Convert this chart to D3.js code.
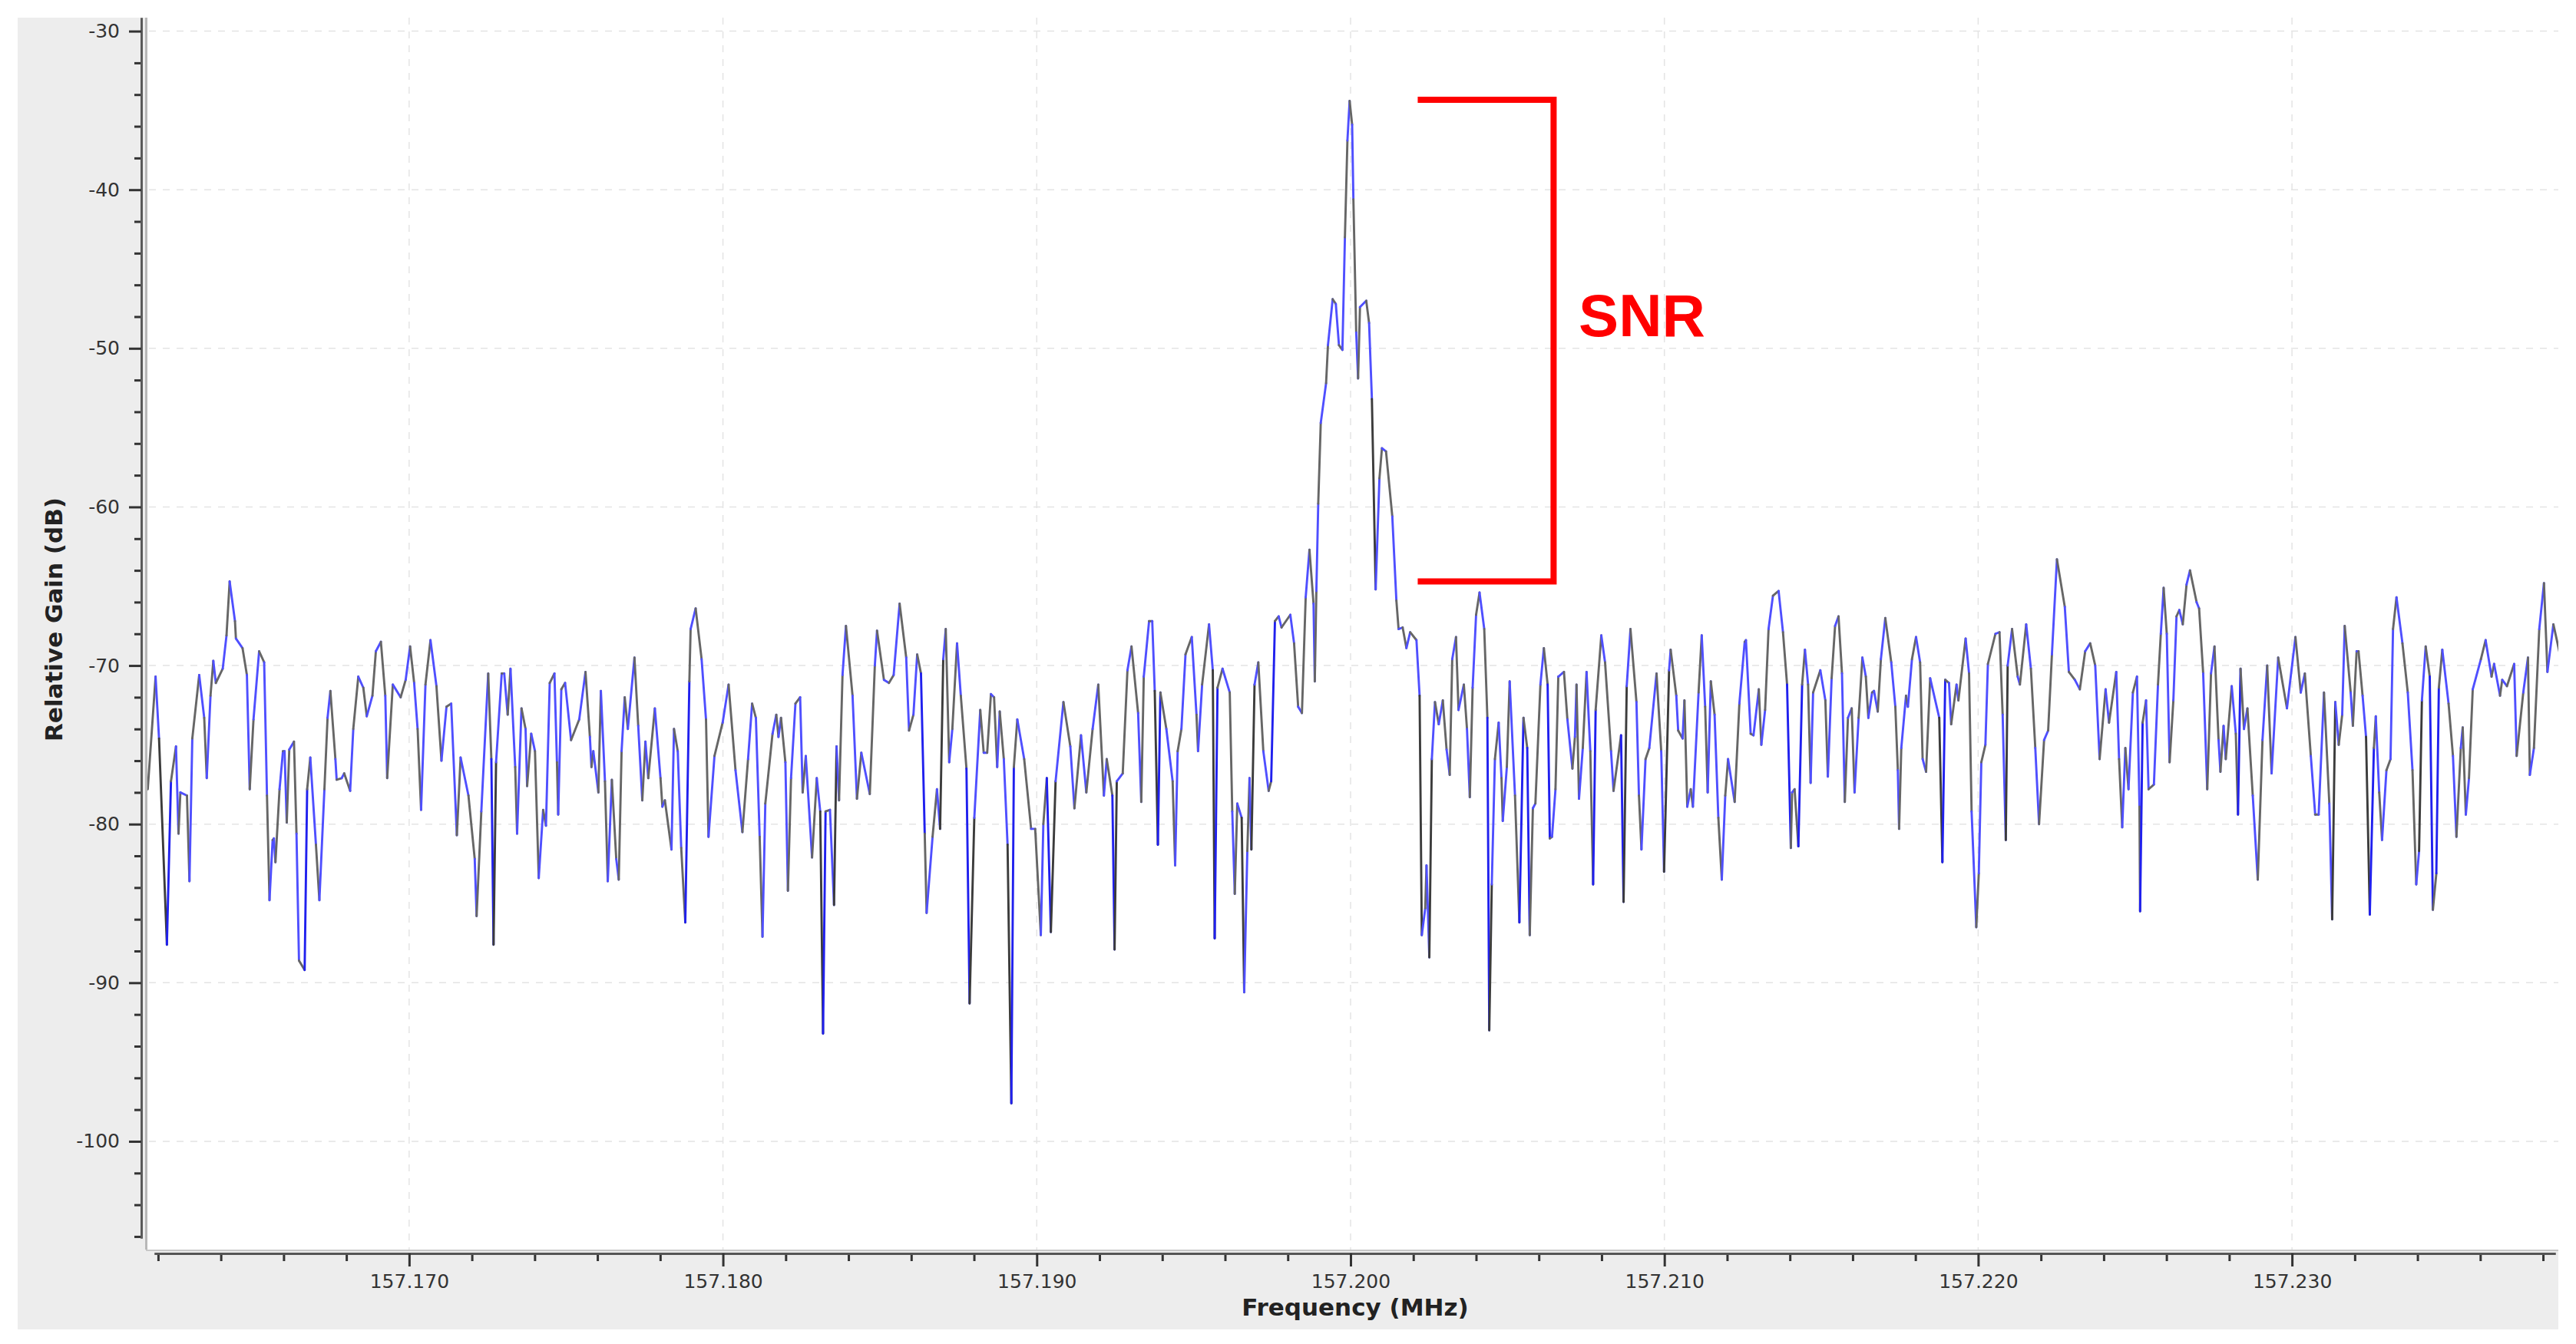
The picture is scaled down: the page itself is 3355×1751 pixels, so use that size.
<!DOCTYPE html>
<html><head><meta charset="utf-8">
<script src="https://cdn.jsdelivr.net/npm/d3@7"></script>
<style>html,body{margin:0;padding:0;background:#fff;} svg{display:block}</style>
</head><body>
<svg id="chart" width="3355" height="1751"></svg>
<script>
// ---------- data ----------
const centerMHz = 157.2;                 // spectrum centre; frequencies below are kHz offsets from it
const xTickLabels = ["157.170","157.180","157.190","157.200","157.210","157.220","157.230"];
const yTickLabels = [-30,-40,-50,-60,-70,-80,-90,-100];
const xAxisTitle = "Frequency (MHz)";
const yAxisTitle = "Relative Gain (dB)";

// band 1 (left edge .. -25.7 kHz)
const band1Freq = [-38.33,-38.08,-37.97,-37.72,-37.59,-37.43,-37.35,-37.29,-37.08,-37.00,-36.91,-36.69,-36.53,-36.45,-36.33,-36.24,-36.16,-35.94,-35.82,-35.72,-35.55,-35.52,-35.31,-35.17,-35.08,-34.96,-34.78,-34.62,-34.53,-34.45,-34.35,-34.31,-34.26,-34.13,-34.02,-33.97,-33.90,-33.82,-33.67,-33.59,-33.51,-33.33,-33.25,-33.15,-32.97,-32.86,-32.70,-32.60,-32.51,-32.35,-32.31,-32.15,-32.07,-31.88,-31.78,-31.62,-31.46,-31.35,-31.17,-31.06,-30.90,-30.76,-30.70,-30.52,-30.27,-30.11,-29.97,-29.84,-29.73,-29.62,-29.48,-29.32,-29.13,-28.97,-28.81,-28.66,-28.48,-28.36,-28.11,-27.91,-27.85,-27.70,-27.48,-27.38,-27.31,-27.23,-27.05,-26.97,-26.86,-26.77,-26.62,-26.56,-26.42,-26.29,-26.24,-26.11,-25.99,-25.87,-25.73];
const band1Gain = [-77.8,-70.7,-74.6,-87.6,-77.3,-75.1,-80.6,-78.0,-78.2,-83.6,-74.6,-70.6,-73.3,-77.1,-71.9,-69.7,-71.1,-70.2,-68.1,-64.7,-67.2,-68.3,-68.9,-70.6,-77.8,-73.4,-69.1,-69.8,-78.2,-84.8,-81.0,-80.9,-82.4,-77.8,-75.4,-75.4,-79.9,-75.3,-74.8,-80.6,-88.6,-89.2,-77.8,-75.8,-81.3,-84.8,-77.8,-73.3,-71.6,-75.9,-77.2,-77.1,-76.8,-77.9,-74.0,-70.7,-71.4,-73.2,-71.9,-69.1,-68.5,-71.9,-77.1,-71.2,-72.0,-70.9,-68.8,-71.1,-74.0,-79.1,-71.2,-68.4,-71.3,-76.0,-72.6,-72.4,-80.7,-75.8,-78.2,-82.2,-85.8,-79.2,-70.5,-75.9,-87.6,-76.1,-70.5,-70.5,-73.1,-70.2,-76.4,-80.6,-72.7,-74.0,-77.6,-74.3,-75.4,-83.4,-79.1];

// band 2 (-25.6 .. -12.9 kHz)
const band2Freq = [-25.64,-25.52,-25.37,-25.29,-25.25,-25.15,-25.03,-24.84,-24.58,-24.38,-24.24,-24.19,-24.13,-23.97,-23.89,-23.76,-23.67,-23.54,-23.40,-23.32,-23.23,-23.13,-23.03,-22.82,-22.70,-22.57,-22.47,-22.38,-22.17,-21.99,-21.93,-21.85,-21.64,-21.56,-21.44,-21.33,-21.20,-21.07,-21.03,-20.87,-20.68,-20.54,-20.46,-20.27,-20.01,-19.82,-19.60,-19.38,-19.20,-19.07,-18.95,-18.83,-18.74,-18.65,-18.42,-18.30,-18.23,-18.15,-18.01,-17.93,-17.83,-17.69,-17.54,-17.46,-17.36,-17.16,-17.01,-16.90,-16.81,-16.73,-16.59,-16.46,-16.38,-16.30,-16.19,-16.08,-15.87,-15.73,-15.59,-15.32,-15.16,-15.09,-14.87,-14.71,-14.56,-14.37,-14.16,-14.07,-13.93,-13.81,-13.69,-13.57,-13.51,-13.32,-13.18,-13.08,-12.98,-12.90];
const band2Gain = [-80.1,-71.1,-70.5,-76.1,-79.4,-71.5,-71.1,-74.7,-73.4,-70.4,-74.5,-76.4,-75.4,-78.0,-71.6,-77.3,-83.6,-77.2,-82.2,-83.5,-75.4,-72.0,-74.0,-69.5,-73.8,-78.5,-74.8,-77.1,-72.7,-77.1,-78.9,-78.5,-81.6,-74.0,-75.4,-81.5,-86.2,-71.0,-67.7,-66.4,-69.6,-73.4,-80.8,-75.7,-73.6,-71.2,-76.6,-80.5,-75.9,-72.4,-73.3,-80.8,-87.1,-78.7,-74.3,-73.1,-74.5,-73.3,-76.1,-84.2,-77.1,-72.4,-72.0,-78.0,-75.7,-82.1,-77.1,-79.2,-93.2,-79.2,-79.1,-85.1,-75.1,-78.5,-70.6,-67.5,-71.9,-78.4,-75.5,-78.1,-70.0,-67.8,-70.9,-71.1,-70.6,-66.1,-69.5,-74.1,-73.1,-69.3,-70.5,-80.6,-85.6,-80.8,-77.8,-80.3,-69.6,-67.7];

// band 3 (-12.8 .. -1.1 kHz)
const band3Freq = [-12.79,-12.69,-12.54,-12.42,-12.24,-12.14,-11.99,-11.80,-11.69,-11.58,-11.46,-11.36,-11.26,-11.18,-11.05,-10.93,-10.81,-10.73,-10.62,-10.40,-10.18,-10.05,-9.87,-9.79,-9.68,-9.55,-9.40,-9.15,-8.93,-8.80,-8.59,-8.42,-8.22,-8.04,-7.86,-7.77,-7.59,-7.52,-7.45,-7.26,-7.11,-6.98,-6.77,-6.67,-6.59,-6.42,-6.32,-6.24,-6.14,-6.06,-5.87,-5.67,-5.59,-5.51,-5.39,-5.26,-5.06,-4.91,-4.86,-4.73,-4.51,-4.39,-4.33,-4.24,-4.08,-3.85,-3.77,-3.69,-3.61,-3.47,-3.39,-3.29,-3.22,-3.16,-3.06,-2.94,-2.78,-2.61,-2.53,-2.41,-2.29,-2.20,-1.92,-1.80,-1.67,-1.55,-1.43,-1.31,-1.18,-1.14,-1.09];
const band3Gain = [-76.1,-74.0,-68.6,-71.9,-76.5,-91.3,-79.6,-72.8,-75.5,-75.5,-71.8,-72.0,-76.4,-72.9,-75.9,-81.3,-97.6,-76.4,-73.4,-75.9,-80.3,-80.3,-87.0,-80.0,-77.1,-86.8,-77.3,-72.3,-75.1,-79.0,-74.4,-78.0,-74.0,-71.2,-78.2,-75.9,-78.2,-87.9,-77.3,-76.8,-70.3,-68.8,-73.0,-78.6,-70.7,-67.2,-67.2,-71.6,-81.3,-71.7,-74.0,-77.3,-82.6,-75.4,-74.0,-69.3,-68.2,-73.1,-75.4,-71.2,-67.4,-70.3,-87.2,-71.4,-70.2,-71.7,-79.2,-84.4,-78.7,-79.6,-90.6,-81.7,-77.1,-81.6,-71.2,-69.8,-75.4,-77.9,-77.3,-67.2,-66.9,-67.6,-66.8,-68.6,-72.6,-73.0,-65.7,-62.7,-66.1,-71.0,-65.3];

// band 4: the carrier (-1.0 .. +2.1 kHz)
const carrierFreq = [-1.03,-0.95,-0.78,-0.72,-0.57,-0.47,-0.37,-0.26,-0.18,-0.10,-0.03,0.05,0.09,0.18,0.24,0.30,0.50,0.59,0.68,0.80,0.92,1.00,1.13,1.33,1.46,1.53,1.66,1.78,1.90,2.10];
const carrierGain = [-59.8,-54.7,-52.2,-49.8,-46.9,-47.2,-49.8,-50.1,-43.0,-36.9,-34.4,-35.9,-40.6,-49.0,-51.9,-47.4,-47.0,-48.4,-53.2,-65.2,-58.2,-56.3,-56.5,-60.6,-65.9,-67.7,-67.6,-68.9,-67.9,-68.4];

// band 5 (+2.2 .. +12.6 kHz)
const band5Freq = [2.20,2.27,2.38,2.42,2.51,2.59,2.69,2.81,2.94,3.06,3.16,3.24,3.36,3.44,3.61,3.71,3.80,3.89,4.00,4.11,4.26,4.36,4.42,4.50,4.60,4.72,4.81,4.85,4.98,5.07,5.24,5.38,5.51,5.63,5.71,5.81,5.89,6.05,6.16,6.28,6.35,6.42,6.53,6.62,6.80,6.91,7.07,7.15,7.20,7.28,7.40,7.52,7.64,7.73,7.81,7.99,8.11,8.30,8.38,8.62,8.70,8.80,8.92,9.11,9.19,9.27,9.40,9.52,9.75,9.90,9.99,10.15,10.20,10.38,10.44,10.58,10.64,10.73,10.84,10.91,11.09,11.19,11.30,11.38,11.48,11.60,11.72,11.83,11.94,12.03,12.24,12.39,12.56];
const band5Gain = [-71.9,-87.0,-85.3,-82.6,-88.4,-75.9,-72.3,-73.7,-72.2,-75.3,-76.9,-69.6,-68.2,-72.8,-71.2,-74.0,-78.3,-71.4,-66.8,-65.4,-67.7,-73.3,-93.0,-83.8,-75.9,-73.6,-77.1,-79.8,-76.4,-71.0,-78.2,-86.2,-73.3,-75.2,-87.0,-79.0,-78.7,-71.2,-68.9,-71.2,-80.9,-80.8,-77.8,-70.7,-70.4,-73.4,-76.5,-74.5,-71.2,-78.4,-75.2,-70.4,-75.4,-83.8,-72.8,-68.1,-69.8,-75.4,-77.9,-74.4,-84.9,-71.3,-67.7,-72.3,-78.2,-81.6,-75.9,-75.2,-70.5,-75.4,-83.0,-70.3,-69.0,-71.9,-74.1,-74.6,-72.2,-78.9,-77.8,-78.9,-71.7,-68.1,-72.6,-78.0,-71.0,-73.1,-79.6,-83.5,-78.2,-75.9,-78.6,-72.4,-68.5];

// band 6 (+12.6 .. +25.2 kHz)
const band6Freq = [12.60,12.75,12.84,13.01,13.09,13.21,13.32,13.46,13.64,13.78,13.91,14.03,14.07,14.15,14.27,14.39,14.48,14.58,14.66,14.74,14.97,15.13,15.21,15.33,15.44,15.55,15.66,15.75,15.85,15.97,16.06,16.19,16.31,16.42,16.50,16.62,16.68,16.80,16.90,17.04,17.23,17.36,17.44,17.48,17.55,17.70,17.76,17.89,18.02,18.15,18.23,18.34,18.47,18.76,18.86,18.95,19.07,19.14,19.31,19.37,19.60,19.71,19.79,19.94,20.02,20.10,20.23,20.31,20.55,20.68,20.78,20.88,20.94,21.08,21.26,21.33,21.53,21.68,21.82,21.94,22.10,22.23,22.35,22.51,22.76,22.89,23.08,23.24,23.41,23.57,23.73,23.87,24.06,24.17,24.40,24.49,24.59,24.69,24.79,24.93,25.06,25.14,25.16,25.24];
const band6Gain = [-68.4,-74.3,-74.4,-71.5,-75.0,-72.8,-67.7,-65.6,-65.3,-67.9,-71.2,-81.5,-78.0,-77.8,-81.4,-71.2,-69.0,-71.2,-77.4,-71.7,-70.3,-72.2,-77.0,-70.8,-67.5,-66.9,-70.5,-78.6,-73.3,-72.7,-78.0,-73.3,-69.5,-70.7,-73.3,-71.7,-71.6,-72.9,-69.6,-67.0,-69.8,-72.6,-76.6,-80.3,-75.2,-71.9,-72.6,-69.6,-68.2,-69.8,-75.9,-76.7,-70.8,-73.3,-82.4,-70.9,-71.1,-73.7,-71.2,-72.2,-68.3,-70.5,-79.2,-86.5,-83.1,-76.1,-75.0,-69.9,-68.0,-67.9,-73.1,-81.0,-70.0,-67.7,-70.7,-71.2,-67.4,-70.2,-75.2,-80.0,-74.7,-74.1,-69.3,-63.3,-66.3,-70.4,-70.9,-71.5,-69.1,-68.6,-70.0,-75.9,-71.5,-73.6,-70.4,-75.9,-80.2,-75.2,-77.8,-71.7,-70.7,-78.9,-85.5,-73.6];

// band 7 (+25.3 .. right edge)
const band7Freq = [25.35,25.43,25.60,25.73,25.82,25.91,26.01,26.10,26.22,26.32,26.41,26.52,26.64,26.75,26.96,27.04,27.17,27.30,27.42,27.53,27.66,27.72,27.82,27.89,28.08,28.21,28.28,28.36,28.47,28.58,28.75,28.91,29.06,29.21,29.35,29.56,29.84,30.11,30.28,30.41,30.60,30.74,30.85,31.02,31.19,31.28,31.38,31.49,31.60,31.68,31.87,31.94,32.06,32.12,32.25,32.36,32.48,32.61,32.67,32.78,32.87,33.01,33.14,33.22,33.33,33.52,33.69,33.84,33.96,34.05,34.14,34.26,34.39,34.49,34.60,34.68,34.79,34.99,35.13,35.24,35.38,35.44,35.54,35.64,35.76,36.02,36.17,36.36,36.44,36.63,36.70,36.85,37.08,37.16,37.37,37.52,37.58,37.71,37.88,38.03,38.14,38.33,38.54];
const band7Gain = [-72.2,-77.8,-77.5,-71.2,-68.0,-65.1,-68.0,-76.1,-72.2,-66.9,-66.5,-67.4,-64.9,-64.0,-66.0,-66.4,-70.5,-77.8,-70.5,-68.8,-74.7,-76.7,-73.8,-75.9,-71.3,-74.3,-79.4,-70.2,-74.0,-72.7,-78.2,-83.5,-74.7,-70.0,-76.8,-69.5,-72.7,-68.2,-71.7,-70.5,-75.7,-79.4,-79.4,-71.7,-78.7,-86.0,-72.3,-75.0,-73.1,-67.5,-71.7,-73.8,-69.1,-69.1,-71.9,-74.5,-85.7,-75.2,-73.2,-78.0,-81.0,-76.6,-75.9,-67.7,-65.7,-68.6,-71.7,-76.6,-83.8,-81.7,-72.2,-68.8,-70.7,-85.4,-83.1,-71.4,-69.0,-72.4,-75.7,-80.8,-75.2,-73.9,-79.4,-77.1,-71.5,-69.6,-68.4,-70.7,-69.9,-71.9,-70.9,-71.3,-69.9,-75.7,-71.7,-69.5,-76.9,-75.2,-67.7,-64.8,-70.4,-67.4,-69.3];

// SNR annotation (data units: kHz offset, dB)
const snrFreqRange = [2.14, 6.47];
const snrGainRange = [-34.33, -64.70];
const snrLabel = "SNR";
const snrLabelAt = [7.27, -49.24];

// ---------- build ----------
const bandsFreq = [band1Freq, band2Freq, band3Freq, carrierFreq, band5Freq, band6Freq, band7Freq];
const bandsGain = [band1Gain, band2Gain, band3Gain, carrierGain, band5Gain, band6Gain, band7Gain];
const data = [];
bandsFreq.forEach((fa, b) => {
  const ga = bandsGain[b];
  const n = Math.min(fa.length, ga.length);
  if (fa.length !== ga.length) console.error("length mismatch in band", b, fa.length, ga.length);
  for (let i = 0; i < n; i++) data.push({ f: centerMHz + fa[i] / 1000, g: ga[i] });
});

const svg = d3.select("#chart");
const W = 3355, H = 1751;
const panel = { x: 23, y: 23, w: 3309, h: 1709 };
const canvas = { x0: 190, x1: 3332, y0: 23, y1: 1628 };

const x = d3.scaleLinear().domain([157.16188, 157.23839]).range([201, 3328]);
const y = d3.scaleLinear().domain([-106.1, -29.15]).range([1613, 23]);

svg.append("rect").attr("x", 0).attr("y", 0).attr("width", W).attr("height", H).attr("fill", "#ffffff");
svg.append("rect").attr("x", panel.x).attr("y", panel.y).attr("width", panel.w).attr("height", panel.h).attr("fill", "#ededed");
svg.append("rect").attr("x", canvas.x0).attr("y", canvas.y0).attr("width", canvas.x1 - canvas.x0).attr("height", canvas.y1 - canvas.y0).attr("fill", "#ffffff");

const defs = svg.append("defs");
defs.append("clipPath").attr("id", "clip").append("rect")
  .attr("x", canvas.x0 + 2).attr("y", canvas.y0).attr("width", canvas.x1 - canvas.x0 - 2).attr("height", canvas.y1 - canvas.y0);

// grid
const xMajor = xTickLabels.map(Number);
const grid = svg.append("g").attr("stroke", "#e4e4e4").attr("stroke-width", 1.5).attr("stroke-dasharray", "9,9");
grid.selectAll("line.h").data(yTickLabels).join("line").attr("class", "h")
  .attr("x1", canvas.x0 + 4).attr("x2", canvas.x1).attr("y1", d => y(d)).attr("y2", d => y(d));
grid.selectAll("line.v").data(xMajor).join("line").attr("class", "v")
  .attr("y1", canvas.y0).attr("y2", canvas.y1).attr("x1", d => x(d)).attr("x2", d => x(d));

// trace
const plot = svg.append("g").attr("clip-path", "url(#clip)");
const seg = d3.line().x(d => x(d.f)).y(d => y(d.g));
const segs = [];
for (let i = 0; i < data.length - 1; i++) segs.push([data[i], data[i + 1], i]);
plot.selectAll("path.seg").data(segs).join("path").attr("class", "seg")
  .attr("d", d => seg([d[0], d[1]]))
  .attr("fill", "none")
  .attr("stroke-width", 2.9)
  .attr("stroke-linejoin", "round")
  .attr("stroke-linecap", "round")
  .attr("stroke", d => {
    const drop = Math.abs(d[1].g - d[0].g);
    if (drop > 9) return (d[2] % 2 ? "#2020ee" : "#3c3c3c");
    return d[2] % 2 ? "#4f4fff" : "#666666";
  });

// y axis
const yAxisX = 184;
svg.append("line").attr("x1", 190.5).attr("x2", 190.5).attr("y1", canvas.y0).attr("y2", canvas.y1)
  .attr("stroke", "#b8b8b8").attr("stroke-width", 3);
const yMinor = d3.range(-106, -29, 2).filter(v => v % 10 !== 0);
const gyMinor = svg.append("g").attr("transform", `translate(${yAxisX},0)`)
  .call(d3.axisLeft(y).tickValues(yMinor).tickSize(9).tickSizeOuter(0).tickFormat(""));
const gy = svg.append("g").attr("transform", `translate(${yAxisX},0)`)
  .call(d3.axisLeft(y).tickValues(yTickLabels).tickSize(16).tickSizeOuter(0).tickPadding(12).tickFormat(d => String(d)));
[gy, gyMinor].forEach(g => {
  g.select(".domain").attr("stroke", "#5a5a5a").attr("stroke-width", 3);
  g.selectAll(".tick line").attr("stroke", "#333").attr("stroke-width", 3);
});
gy.selectAll(".tick text").attr("font-family", "DejaVu Sans").attr("font-size", 25).attr("fill", "#333");

// x axis
const xAxisY = 1633;
svg.append("line").attr("x1", canvas.x0).attr("x2", canvas.x1).attr("y1", 1629).attr("y2", 1629)
  .attr("stroke", "#c8c8c8").attr("stroke-width", 2);
const xMinor = d3.range(0, 39).map(i => 157.162 + i * 0.002).filter(v => Math.abs(Math.round(v * 100) - v * 100) > 1e-6);
const gxMinor = svg.append("g").attr("transform", `translate(0,${xAxisY})`)
  .call(d3.axisBottom(x).tickValues(xMinor).tickSize(10).tickSizeOuter(0).tickFormat(""));
const gx = svg.append("g").attr("transform", `translate(0,${xAxisY})`)
  .call(d3.axisBottom(x).tickValues(xMajor).tickSize(17).tickSizeOuter(0).tickPadding(10).tickFormat((d, i) => xTickLabels[i]));
[gx, gxMinor].forEach(g => {
  g.select(".domain").attr("stroke", "#555").attr("stroke-width", 3);
  g.selectAll(".tick line").attr("stroke", "#333").attr("stroke-width", 3);
});
gx.selectAll(".tick text").attr("font-family", "DejaVu Sans").attr("font-size", 25).attr("fill", "#333");

// axis titles
svg.append("text").attr("transform", "translate(70,807) rotate(-90)")
  .attr("text-anchor", "middle").attr("dominant-baseline", "central")
  .attr("font-family", "DejaVu Sans").attr("font-weight", "bold").attr("font-size", 31).attr("fill", "#222")
  .text(yAxisTitle);
svg.append("text").attr("x", 1765).attr("y", 1703)
  .attr("text-anchor", "middle").attr("dominant-baseline", "central")
  .attr("font-family", "DejaVu Sans").attr("font-weight", "bold").attr("font-size", 31).attr("fill", "#222")
  .text(xAxisTitle);

// SNR bracket
const fx = k => x(centerMHz + k / 1000);
const bx0 = fx(snrFreqRange[0]), bx1 = fx(snrFreqRange[1]);
const by0 = y(snrGainRange[0]), by1 = y(snrGainRange[1]);
svg.append("path")
  .attr("d", d3.line()([[bx0, by0], [bx1, by0], [bx1, by1], [bx0, by1]]))
  .attr("fill", "none").attr("stroke", "#ff0000").attr("stroke-width", 8).attr("stroke-linejoin", "miter");
svg.append("text").attr("x", fx(snrLabelAt[0])).attr("y", y(snrLabelAt[1]))
  .attr("font-family", "Liberation Sans").attr("font-weight", "bold").attr("font-size", 78).attr("fill", "#ff0000")
  .text(snrLabel);
</script>
</body></html>
